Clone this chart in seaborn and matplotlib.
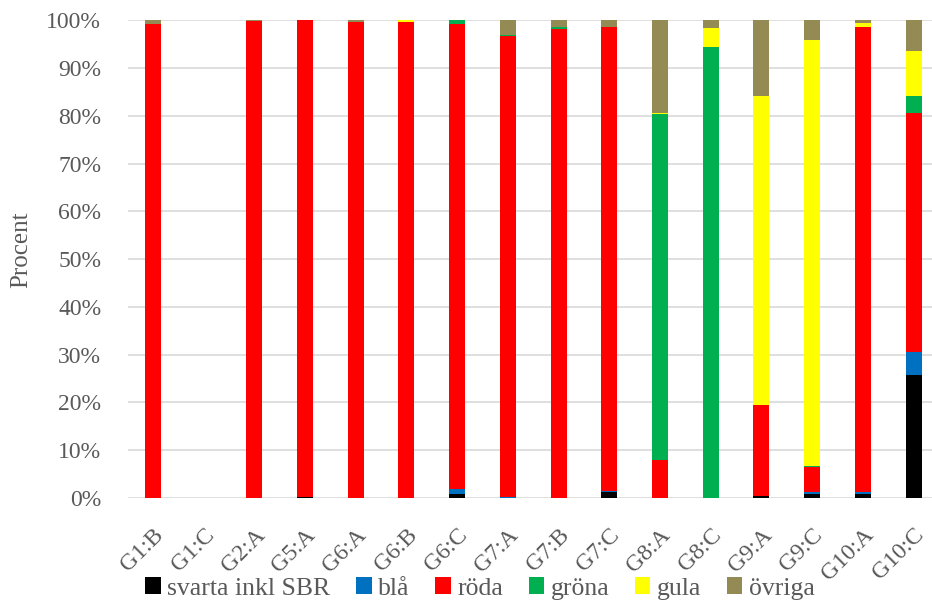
import numpy as np
import pandas as pd
import matplotlib
matplotlib.use("Agg")
import matplotlib.pyplot as plt
import seaborn as sns
from matplotlib.patches import Patch
from matplotlib.ticker import FuncFormatter

categories = ["G1:B", "G1:C", "G2:A", "G5:A", "G6:A", "G6:B", "G6:C", "G7:A",
              "G7:B", "G7:C", "G8:A", "G8:C", "G9:A", "G9:C", "G10:A", "G10:C"]
series_names = ["svarta inkl SBR", "blå", "röda", "gröna", "gula", "övriga"]
svarta = [0.0, 0.0, 0.0, 0.2, 0.0, 0.0, 0.9, 0.0, 0.0, 1.2, 0.0, 0.0, 0.4, 0.8, 0.9, 25.7]
bla    = [0.0, 0.0, 0.0, 0.0, 0.0, 0.0, 0.9, 0.2, 0.0, 0.3, 0.0, 0.0, 0.0, 0.5, 0.4, 4.8]
roda   = [99.3, 0.0, 99.8, 99.8, 99.6, 99.7, 97.4, 96.5, 98.2, 97.1, 7.9, 0.0, 19.0, 5.1, 97.3, 50.2]
grona  = [0.0, 0.0, 0.0, 0.0, 0.0, 0.0, 0.8, 0.2, 0.3, 0.0, 72.4, 94.4, 0.0, 0.4, 0.0, 3.4]
gula   = [0.0, 0.0, 0.0, 0.0, 0.0, 0.3, 0.0, 0.0, 0.0, 0.0, 0.4, 3.9, 64.7, 89.0, 0.9, 9.4]
ovriga = [0.7, 0.0, 0.2, 0.0, 0.4, 0.0, 0.0, 3.1, 1.5, 1.4, 19.3, 1.7, 15.9, 4.2, 0.5, 6.5]
colors = ["#000000", "#0070C0", "#FF0000", "#00B050", "#FFFF00", "#948A54"]

series = [svarta, bla, roda, grona, gula, ovriga]
df = pd.DataFrame({name: vals for name, vals in zip(series_names, series)})
df["kategori"] = categories
cum = df[series_names].cumsum(axis=1)

sns.set_style("white")
plt.rcParams["font.family"] = ["Liberation Serif", "DejaVu Serif"]

fig = plt.figure(figsize=(9.32, 6.08), dpi=100)
ax = fig.add_axes([0.1369, 0.1809, 0.8705, 0.7857])

# stacked by overlapping cumulative bars, top layer first
for name, col in reversed(list(zip(series_names, colors))):
    sns.barplot(x=df["kategori"], y=cum[name] / 100.0, order=categories,
                color=col, width=0.315, linewidth=0, saturation=1, ax=ax, zorder=3)

ax.set_xlim(-0.5, len(categories) - 0.5)
ax.set_ylim(0, 1.0)
ax.set_yticks(np.arange(0, 1.01, 0.1))
ax.yaxis.set_major_formatter(FuncFormatter(lambda v, p: f"{int(round(v*100))}%"))
ax.grid(axis="y", color="#D9D9D9", linewidth=1.2, zorder=0)
ax.set_axisbelow(True)
for s in ax.spines.values():
    s.set_visible(False)
ax.tick_params(axis="y", length=0, labelsize=17, colors="#595959", pad=19)
ax.set_xticks(range(len(categories)))
ax.set_xticklabels(categories, rotation=45, ha="right", rotation_mode="anchor")
ax.tick_params(axis="x", length=0, labelsize=17, colors="#595959", pad=19)
ax.set_xlabel("")
ax.set_ylabel("Procent", fontsize=18, color="#595959")
ax.yaxis.set_label_coords(-0.117, 0.52)

handles = [Patch(facecolor=c, edgecolor="none", label=n) for n, c in zip(series_names, colors)]
fig.legend(handles=handles, loc="center", bbox_to_anchor=(0.515, 0.032), ncol=6,
           frameon=False, fontsize=18.5, handlelength=0.6, handleheight=0.6,
           handletextpad=0.25, columnspacing=1.0, labelcolor="#595959",
           borderpad=0, borderaxespad=0)

fig.savefig("out.png", dpi=100)
